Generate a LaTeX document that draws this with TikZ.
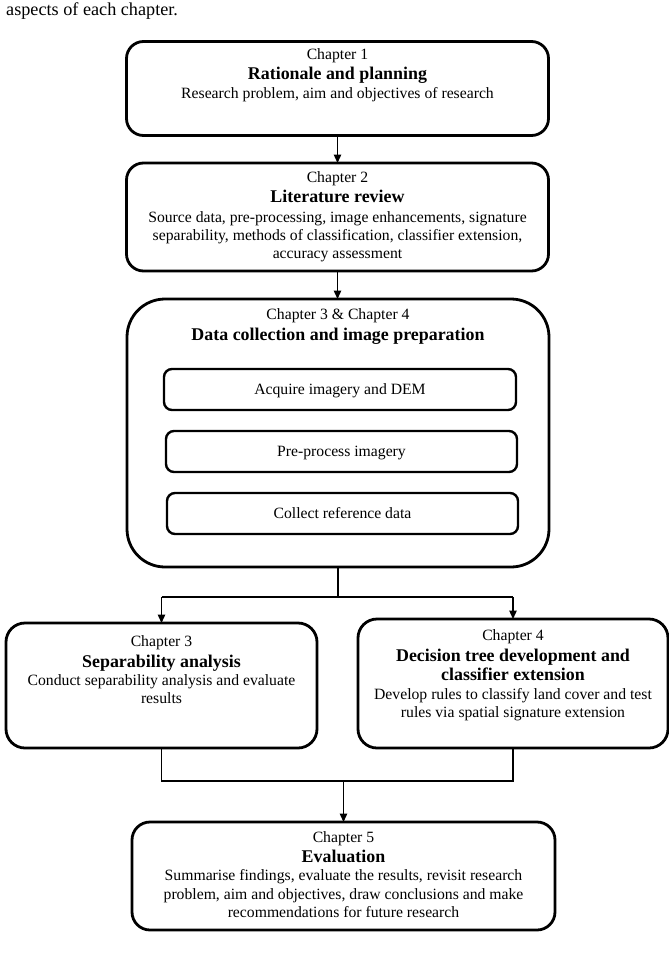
\documentclass[tikz,border=0pt]{standalone}
\usepackage{fontspec}
\setmainfont{Liberation Serif}
\usetikzlibrary{arrows.meta}
\newcommand{\regfont}{\fontsize{15.7}{18.3}\selectfont}
\newcommand{\ttl}[1]{{\fontsize{17.9}{18.3}\selectfont\bfseries #1}}
\tikzset{
  x=1pt, y=-1pt,
  chbox/.style={draw=black, line width=2.8pt, rounded corners=#1, inner sep=0pt, outer sep=0pt},
  chbox/.default=18pt,
  subbox/.style={draw=black, line width=2.4pt, rounded corners=8pt, inner sep=0pt, outer sep=0pt,
    font=\regfont, text height=13.4pt, text depth=3pt},
  boxtext/.style={anchor=north, inner sep=0pt, align=center, font=\regfont},
  conn/.style={draw=black, line width=1.3pt},
  arr/.style={conn, -{Triangle[length=8.5pt,width=7.5pt]}},
}
\begin{document}
\begin{tikzpicture}
\useasboundingbox (0,0) rectangle (669,956);

% top text
\node[anchor=base west, inner sep=0pt, font=\fontsize{18.2}{20}\selectfont] (intro) at (6,15) {aspects of each chapter.};

% boxes
\node[chbox=17pt, minimum width=422pt, minimum height=94pt] (b1) at (337.5,88.5) {};
\node[chbox=17pt, minimum width=422pt, minimum height=108pt] (b2) at (337.5,217) {};
\node[chbox=38pt, minimum width=422pt, minimum height=268pt] (b3) at (338,433) {};
\node[subbox, minimum width=352pt, minimum height=41pt] (i1) at (340,389.5) {Acquire imagery and DEM};
\node[subbox, minimum width=351pt, minimum height=41pt] (i2) at (341.5,451.5) {Pre-process imagery};
\node[subbox, minimum width=351pt, minimum height=41pt] (i3) at (342.5,513.5) {Collect reference data};
\node[chbox=19pt, minimum width=311pt, minimum height=125pt] (b4) at (161.5,685.5) {};
\node[chbox=19pt, minimum width=310pt, minimum height=129pt] (b5) at (513,683.5) {};
\node[chbox=18pt, minimum width=423pt, minimum height=108pt] (b6) at (343.5,876) {};

% texts
\node[boxtext] (t1) at (337.5,47.3) {\rule{0pt}{12pt}Chapter 1\\[1.7pt]
  \ttl{Rationale and planning}\\[1.1pt]
  Research problem, aim and objectives of research};
\node[boxtext] (t2) at (337.5,170.7) {\rule{0pt}{12pt}Chapter 2\\[1.5pt]
  \ttl{Literature review}\\[1.1pt]
  Source data, pre-processing, image enhancements, signature\\
  separability, methods of classification, classifier extension,\\
  accuracy assessment};
\node[boxtext] (t3) at (338,307.3) {\rule{0pt}{12pt}Chapter 3 \& Chapter 4\\[2.4pt]
  \ttl{Data collection and image preparation}};
\node[boxtext] (t4) at (161.5,634.7) {\rule{0pt}{12pt}Chapter 3\\[2pt]
  \ttl{Separability analysis}\\[-0.3pt]
  Conduct separability analysis and evaluate\\
  results};
\node[boxtext] (t5) at (513,628.7) {\rule{0pt}{12pt}Chapter 4\\[2pt]
  \ttl{Decision tree development and}\\[1.4pt]
  \ttl{classifier extension}\\[0.3pt]
  Develop rules to classify land cover and test\\
  rules via spatial signature extension};
\node[boxtext] (t6) at (343.5,830.3) {\rule{0pt}{12pt}Chapter 5\\[1.7pt]
  \ttl{Evaluation}\\[0.1pt]
  Summarise findings, evaluate the results, revisit research\\
  problem, aim and objectives, draw conclusions and make\\
  recommendations for future research};

% connectors
\coordinate (j1) at (339,597);
\coordinate (j2) at (343.5,781);
\draw[arr] (b1.south) -- (b1.south |- b2.north);
\draw[arr] (b2.south) -- (b2.south |- b3.north);
\draw[conn] (b3.south) -- (b3.south |- j1);
\draw[conn] (b4.north |- j1) -- (b5.north |- j1);
\draw[arr] (b4.north |- j1) -- (b4.north);
\draw[arr] (b5.north |- j1) -- (b5.north);
\draw[conn] (b4.south) -- (b4.south |- j2) -- (b5.south |- j2) -- (b5.south);
\draw[arr] (j2) -- (b6.north);
\end{tikzpicture}
\end{document}
